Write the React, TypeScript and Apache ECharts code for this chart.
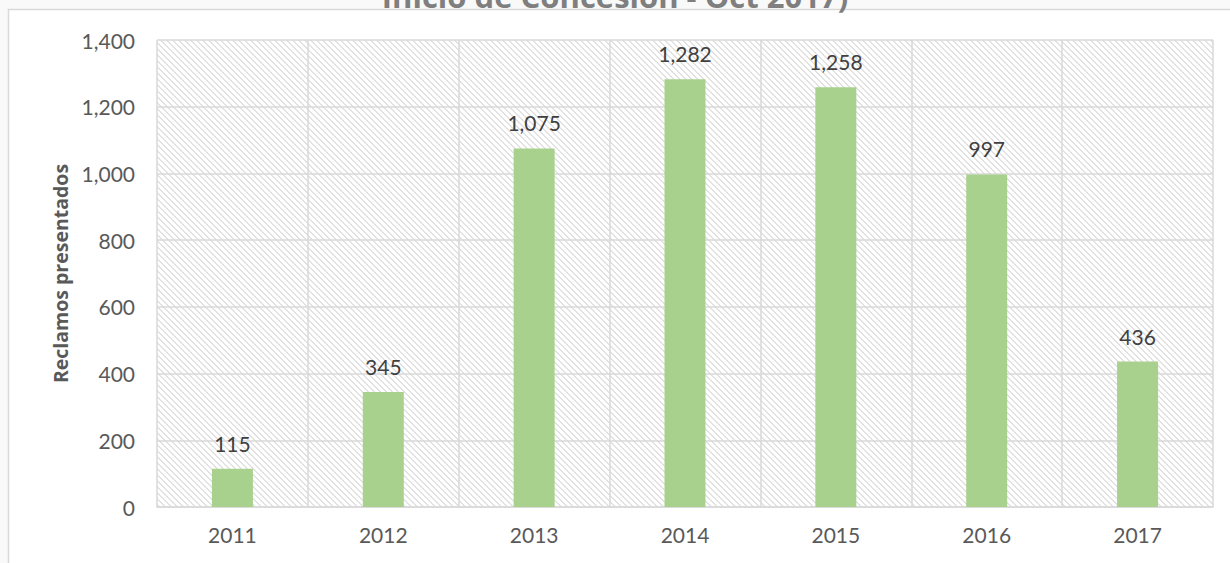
import React, { useEffect, useRef } from "react";
import * as echarts from "echarts";

const years = ["2011", "2012", "2013", "2014", "2015", "2016", "2017"];
const reclamos = [115, 345, 1075, 1282, 1258, 997, 436];
const titleText = "Inicio de Concesión - Oct 2017)";
const yAxisTitle = "Reclamos presentados";

function makeHatch(): HTMLCanvasElement {
  const s = 6;
  const c = document.createElement("canvas");
  c.width = s;
  c.height = s;
  const ctx = c.getContext("2d")!;
  ctx.fillStyle = "#ffffff";
  ctx.fillRect(0, 0, s, s);
  ctx.fillStyle = "#e2e2e2";
  for (let i = 0; i < s; i++) {
    ctx.fillRect(i, i, 1, 1);
    ctx.fillRect((i + 1) % s, i, 1, 1);
  }
  return c;
}

export default function App() {
  const ref = useRef<HTMLDivElement>(null);
  useEffect(() => {
    if (!ref.current) return;
    const chart = echarts.init(ref.current, null, { renderer: "svg" });
    const hatch = makeHatch();
    const font = "Lato, 'Open Sans', sans-serif";
    chart.setOption({
      animation: false,
      backgroundColor: "#f9f9f9",
      textStyle: { fontFamily: font },
      graphic: [
        {
          type: "rect",
          z: -10,
          silent: true,
          shape: { x: 8.5, y: 9.5, width: 1240, height: 600 },
          style: { fill: "#ffffff", stroke: "#d9d9d9", lineWidth: 1.5 },
        },
        {
          type: "text",
          z: 10,
          x: 615,
          y: 11,
          silent: true,
          style: {
            text: titleText,
            fill: "#7f7f7f",
            font: "bold 31px 'Open Sans', sans-serif",
            align: "center",
            verticalAlign: "bottom",
          },
        },
      ],
      grid: {
        left: 157,
        right: 17,
        top: 40,
        bottom: 56,
        show: true,
        borderWidth: 0,
        backgroundColor: { image: hatch, repeat: "repeat", imageWidth: 6, imageHeight: 6 },
        z: 0,
      },
      xAxis: {
        type: "category",
        data: years,
        axisLine: { lineStyle: { color: "#d9d9d9", width: 1.5 } },
        axisTick: { show: false },
        axisLabel: { color: "#595959", fontSize: 21, margin: 17, fontFamily: font },
        splitLine: { show: true, lineStyle: { color: "#d9d9d9", width: 1.5 } },
      },
      yAxis: {
        type: "value",
        min: 0,
        max: 1400,
        interval: 200,
        name: yAxisTitle,
        nameLocation: "middle",
        nameRotate: 90,
        nameGap: 86,
        nameTextStyle: {
          color: "#595959",
          fontSize: 19.5,
          fontWeight: "bold",
          fontFamily: "'Open Sans', sans-serif",
        },
        axisLine: { show: false },
        axisTick: { show: false },
        axisLabel: {
          color: "#595959",
          fontSize: 21,
          margin: 22,
          fontFamily: font,
          formatter: (v: number) => v.toLocaleString("en-US"),
        },
        splitLine: { show: true, lineStyle: { color: "#d9d9d9", width: 1.5 } },
      },
      series: [
        {
          type: "bar",
          data: reclamos,
          barWidth: 41,
          itemStyle: { color: "#a9d18e" },
          label: {
            show: true,
            position: "top",
            distance: 15,
            color: "#404040",
            fontSize: 21,
            fontFamily: font,
            formatter: (p: any) => Number(p.value).toLocaleString("en-US"),
          },
        },
      ],
    });
    return () => chart.dispose();
  }, []);
  return (
    <div
      ref={ref}
      style={{ position: "absolute", left: 0, top: 0, width: 1230, height: 563 }}
    />
  );
}
